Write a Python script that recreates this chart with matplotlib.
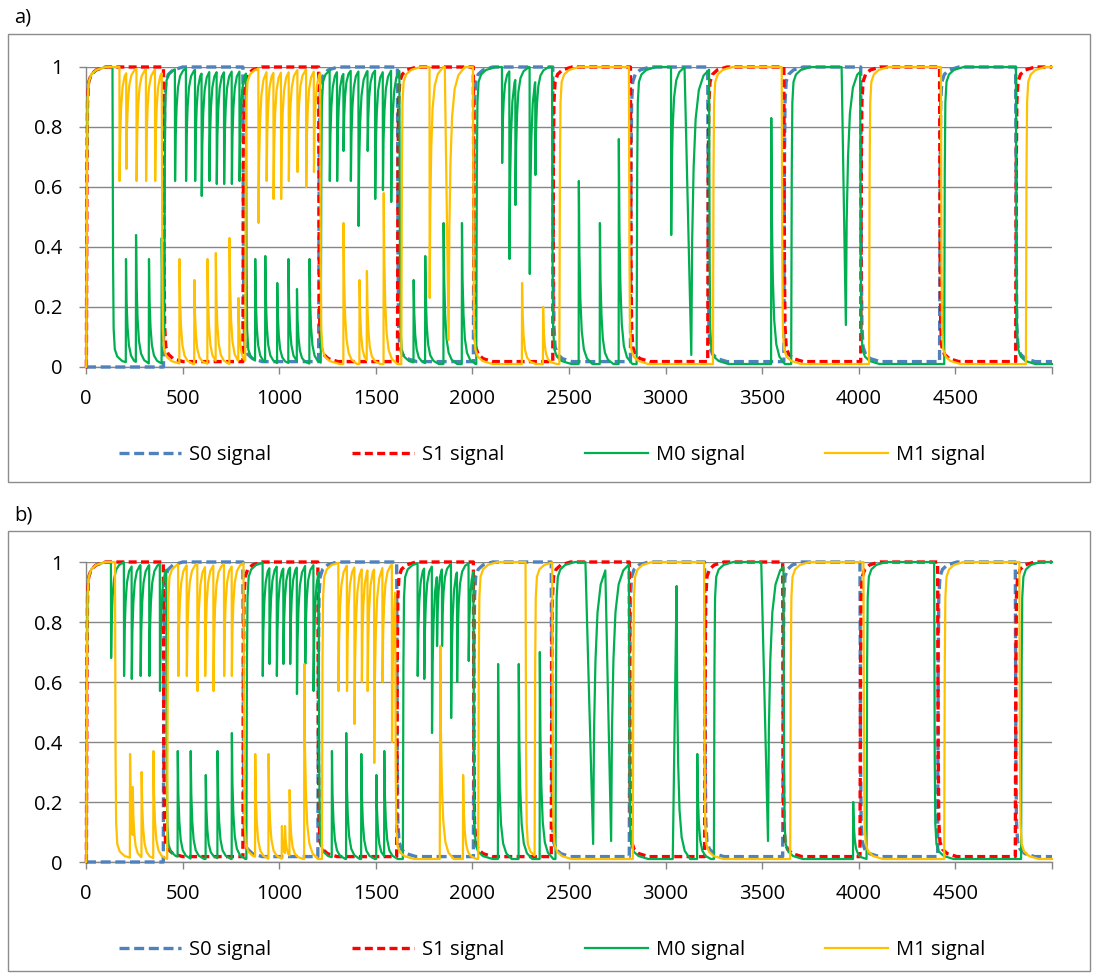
import numpy as np
import matplotlib.pyplot as plt
from matplotlib.patches import Rectangle
from matplotlib.lines import Line2D

plt.rcParams['font.family'] = ['Open Sans', 'DejaVu Sans']
plt.rcParams['font.size'] = 14.5

W, H = 1095, 975
T_END = 5000

x_ticks = list(range(0, 5001, 500))
x_tick_labels = [str(v) for v in range(0, 5000, 500)] + ['']
y_ticks = [0, 0.2, 0.4, 0.6, 0.8, 1]
y_tick_labels = ['0', '0.2', '0.4', '0.6', '0.8', '1']
series_names = ['S0 signal', 'S1 signal', 'M0 signal', 'M1 signal']
colors = ['#4F81BD', '#FF0000', '#00B050', '#FFC000']

S_LOW = 0.018
M_LOW = 0.01

# ---- panel a ----
# S0 and S1 swap at these times (S1 switches on at t=2)
s_edges_a = [401, 812, 1204, 1612, 2005, 2416, 2818, 3218, 3612, 4010, 4418, 4812]
# M signals: level toggles low/high at these times (first one = on)
m0_a_switch = [2, 137, 405, 828, 1215, 1622, 2020, 2412, 2850, 3225, 3650, 4007, 4442, 4813]
# pulses: (time, extreme value[, fall length, recovery scale])
m0_a_pulse = [
    (207, .36), (259, .44), (326, .36), (392, .43),
    (461, .62), (518, .62), (565, .62), (599, .57), (639, .62), (677, .61), (715, .61), (755, .61), (795, .62),
    (876, .36), (928, .37), (990, .28), (1048, .36), (1092, .26), (1157, .36),
    (1262, .62), (1300, .62), (1333, .72), (1371, .62), (1411, .47), (1458, .72), (1497, .56), (1537, .59), (1580, .55),
    (1696, .29), (1756, .37), (1851, .48), (1946, .48),
    (2154, .68), (2192, .36), (2223, .54), (2297, .31), (2326, .64),
    (2551, .62), (2660, .48), (2758, .76),
    (3029, .44), (3133, .04, 35, 1.5),
    (3547, .83),
    (3933, .14, 22, 1.4),
]
m1_a_switch = [2, 392, 824, 1212, 1632, 2003, 2450, 2810, 3245, 3601, 4053, 4425, 4865]
m1_a_pulse = [
    (174, .62), (209, .66), (262, .62), (311, .62), (358, .62),
    (484, .36), (561, .29), (629, .36), (672, .38), (743, .43), (789, .23),
    (893, .48), (935, .62), (971, .56), (1010, .56), (1050, .62), (1095, .65), (1140, .60), (1180, .65),
    (1333, .48), (1416, .29), (1454, .32), (1541, .58),
    (1779, .23), (1877, .09, 20, 1.2),
    (2257, .28), (2366, .20),
]

# ---- panel b ----
s_edges_b = [400, 812, 1200, 1608, 2005, 2408, 2812, 3202, 3606, 4006, 4408, 4810]
m0_b_switch = [2, 415, 830, 1204, 1640, 2005, 2430, 2810, 3250, 3610, 4040, 4390, 4840]
m0_b_pulse = [
    (130, .68), (197, .62), (237, .61), (283, .62), (328, .62), (383, .57),
    (475, .37), (542, .37), (620, .29), (681, .37), (755, .43),
    (915, .62), (950, .66), (988, .62), (1022, .66), (1057, .66), (1092, .56), (1135, .66), (1178, .57),
    (1273, .37), (1347, .43), (1425, .36), (1503, .29), (1544, .37),
    (1717, .62), (1751, .61), (1791, .43), (1817, .72), (1843, .72), (1890, .48), (1921, .60), (1981, .67),
    (2133, .66), (2240, .66), (2349, .70),
    (2625, .06, 40, 1.5), (2718, .07, 30, 1.5),
    (3057, .92, 20, 1), (3164, .36),
    (3530, .07, 35, 1.5),
    (3971, .20),
]
m1_b_switch = [2, 150, 420, 815, 1221, 1600, 2030, 2275, 2322, 2413, 2830, 3199, 3645, 4024, 4442, 4831]
m1_b_pulse = [
    (228, .36), (242, .25), (288, .30), (349, .37),
    (478, .62), (522, .62), (577, .57), (617, .62), (660, .57), (715, .62), (755, .62),
    (876, .36), (945, .36), (1014, .12), (1030, .12), (1054, .24), (1130, .66),
    (1307, .57), (1351, .57), (1390, .46), (1428, .60), (1458, .57), (1492, .33), (1535, .60), (1584, .40),
    (1834, .72, 3, 1), (1952, .29),
]

# shape of the settling after a pulse / a switch (fraction of the step left)
PULSE_DT = [0, 3, 8, 15, 26, 42, 70]
PULSE_FR = [1, .6, .35, .18, .08, .03, 0]
SWITCH_DT = [0, 3, 6, 12, 25, 50, 100]
SWITCH_FR = [1, .35, .12, .05, .025, .01, 0]

S0_DASH = (3.0, 1.4)
S1_DASH = (2.4, 1.3)


def seg_value(seg, t):
    ta, va, rest, dt, fr = seg
    return rest + (va - rest) * np.interp(t - ta, dt, fr)


def emit(seg, t_stop, xs, ys):
    ta = seg[0]
    for d in seg[3]:
        if xs[-1] < ta + d < t_stop:
            xs.append(ta + d)
            ys.append(seg_value(seg, ta + d))
    xs.append(t_stop)
    ys.append(seg_value(seg, t_stop))


def trace(switches, pulses, low, start=0.0):
    ev = [(t, None) for t in switches] + [(p[0], p) for p in pulses]
    ev.sort(key=lambda e: e[0])
    xs, ys = [0.0], [start]
    seg = (0.0, start, start, [0, 1], [1, 1])
    high = False
    for t, p in ev:
        if p is None:
            emit(seg, t, xs, ys)
            high = not high
            seg = (t, ys[-1], 1.0 if high else low, SWITCH_DT, SWITCH_FR)
        else:
            d = p[2] if len(p) > 2 else 1
            s = p[3] if len(p) > 3 else 1
            emit(seg, max(t - d, xs[-1]), xs, ys)
            xs.append(t)
            ys.append(p[1])
            seg = (t, p[1], seg[2], [k * s for k in PULSE_DT], PULSE_FR)
    emit(seg, T_END, xs, ys)
    return xs, ys


def draw_panel(ax, s_edges, m0_sw, m0_p, m1_sw, m1_p):
    s0 = trace(s_edges, [], S_LOW)
    s1 = trace([2] + s_edges, [], S_LOW)
    m0 = trace(m0_sw, m0_p, M_LOW)
    m1 = trace(m1_sw, m1_p, M_LOW)
    ax.plot(*s0, color=colors[0], lw=2.4, dashes=S0_DASH, clip_on=False, zorder=3)
    ax.plot(*s1, color=colors[1], lw=2.4, dashes=S1_DASH, clip_on=False, zorder=4)
    ax.plot(*m0, color=colors[2], lw=1.6, clip_on=False, zorder=5)
    ax.plot(*m1, color=colors[3], lw=1.6, clip_on=False, zorder=6)

    ax.set_xlim(0, T_END)
    ax.set_ylim(0, 1)
    ax.set_xticks(x_ticks, x_tick_labels)
    ax.set_yticks(y_ticks, y_tick_labels)
    ax.grid(axis='y', color='#868686', lw=1.0)
    ax.set_axisbelow(True)
    for side in ['top', 'right']:
        ax.spines[side].set_visible(False)
    for side in ['left', 'bottom']:
        ax.spines[side].set_color('#868686')
        ax.spines[side].set_linewidth(1.0)
    ax.tick_params(axis='both', length=5, width=1.0, color='#868686', labelcolor='black')
    ax.tick_params(axis='x', pad=11)
    ax.tick_params(axis='y', pad=12)


fig = plt.figure(figsize=(W / 100, H / 100), dpi=100)

handles = [
    Line2D([], [], color=colors[0], lw=2.4, dashes=S0_DASH),
    Line2D([], [], color=colors[1], lw=2.4, dashes=S1_DASH),
    Line2D([], [], color=colors[2], lw=1.6),
    Line2D([], [], color=colors[3], lw=1.6),
]

panels = [
    ('a)', 34, 482, 67, 453, s_edges_a, m0_a_switch, m0_a_pulse, m1_a_switch, m1_a_pulse),
    ('b)', 531, 971, 562, 948, s_edges_b, m0_b_switch, m0_b_pulse, m1_b_switch, m1_b_pulse),
]
for label, box_top, box_bot, ax_top, leg_y, se, m0s, m0p, m1s, m1p in panels:
    fig.patches.append(Rectangle((8 / W, 1 - box_bot / H), 1082 / W, (box_bot - box_top) / H,
                                 transform=fig.transFigure, fill=False, ec='#8c8c8c', lw=1.0))
    fig.text(14 / W, 1 - (box_top - 16) / H, label, ha='left', va='center')
    ax = fig.add_axes([86 / W, 1 - (ax_top + 300) / H, 966 / W, 300 / H])
    draw_panel(ax, se, m0s, m0p, m1s, m1p)
    fig.legend(handles, series_names, loc='center', bbox_to_anchor=(552 / W, 1 - (leg_y + 2) / H),
               ncol=4, frameon=False, handlelength=3.1, handletextpad=0.4, columnspacing=4.0)

fig.savefig('out.png', dpi=100)
